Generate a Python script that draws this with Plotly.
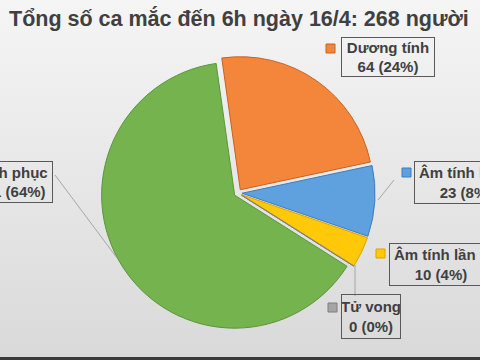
import plotly.graph_objects as go

# ---- data ----
title_text = "Tổng số ca mắc đến 6h ngày 16/4: 268 người"
labels = ["Dương tính", "Âm tính lần 1", "Âm tính lần 2", "Tử vong", "Bình phục"]
values = [64, 23, 10, 0, 171]
pct_labels = ["24%", "8%", "4%", "0%", "64%"]
colors = ["#F4863B", "#5FA0DF", "#FFC90A", "#A5A5A5", "#74B34D"]
edge_colors = ["#C9621F", "#3F7DBD", "#D9A300", "#7F7F7F", "#5A963A"]

W, H = 480, 360

def px(x):
    return x / W

def py(y):
    return 1 - y / H

fig = go.Figure()

# background gradient
fig.add_trace(go.Scatter(
    x=[0, 1, 1, 0, 0], y=[0, 0, 1, 1, 0], mode="lines", fill="toself",
    line=dict(width=0), hoverinfo="skip", showlegend=False,
    fillgradient=dict(type="vertical", colorscale=[[0, "#d9d9d9"], [1, "#f5f5f5"]]),
))

fig.add_trace(go.Pie(
    labels=labels, values=values, sort=False, direction="clockwise", rotation=-8,
    marker=dict(colors=colors, line=dict(color=edge_colors, width=1)),
    pull=[0.03] * len(values), textinfo="none", hoverinfo="skip", showlegend=False,
    domain=dict(x=[px(101), px(375)], y=[py(330), py(56)]),
))

# label boxes: (edge x, anchor, centre y, width, height, marker box)
boxes = [
    (341, "left", 57, 92, 38, (326, 44)),
    (414, "left", 182.5, 102, 41, (402, 168)),
    (389, "left", 264.5, 102, 41, (376, 249)),
    (341, "left", 316.5, 58, 43, (328, 303)),
    (53, "right", 182, 82, 40, None),
]

annotations = [dict(
    text="<b>" + title_text + "</b>", x=px(238.5), y=py(18), xref="paper", yref="paper",
    xanchor="center", yanchor="middle", showarrow=False,
    font=dict(family="Liberation Sans, Arial", size=21.5, color="#404040"),
)]
shapes = []
for i, (bx, anc, cy, bw, bh, mk) in enumerate(boxes):
    annotations.append(dict(
        text="<b>" + labels[i] + "<br>" + str(values[i]) + " (" + pct_labels[i] + ")</b>",
        x=px(bx), y=py(cy), xref="paper", yref="paper", xanchor=anc, yanchor="middle",
        showarrow=False, width=bw, height=bh, align="center", valign="middle",
        bordercolor="#595959", borderwidth=1, borderpad=0,
        font=dict(family="Liberation Sans, Arial", size=15, color="#404040"),
    ))
    if mk is not None:
        mx, my = mk
        shapes.append(dict(type="rect", xref="paper", yref="paper",
                           x0=px(mx), x1=px(mx + 9), y0=py(my), y1=py(my + 9),
                           fillcolor=colors[i], line=dict(color=edge_colors[i], width=1)))

# leader lines
for (x0, y0, x1, y1) in [(55, 175, 117, 258), (394, 180, 378, 200), (355, 265, 355, 296)]:
    shapes.append(dict(type="line", xref="paper", yref="paper",
                       x0=px(x0), y0=py(y0), x1=px(x1), y1=py(y1),
                       line=dict(color="#a6a6a6", width=1)))

# dark strip at bottom edge
shapes.append(dict(type="rect", xref="paper", yref="paper", x0=0, x1=1,
                   y0=0, y1=py(357), fillcolor="#3a3a3a", line=dict(width=0)))

fig.update_layout(
    width=W, height=H, margin=dict(l=0, r=0, t=0, b=0),
    paper_bgcolor="#e8e8e8", plot_bgcolor="rgba(0,0,0,0)",
    xaxis=dict(visible=False, range=[0, 1], domain=[0, 1], fixedrange=True),
    yaxis=dict(visible=False, range=[0, 1], domain=[0, 1], fixedrange=True),
    annotations=annotations, shapes=shapes,
)

fig.write_html("out.html")
